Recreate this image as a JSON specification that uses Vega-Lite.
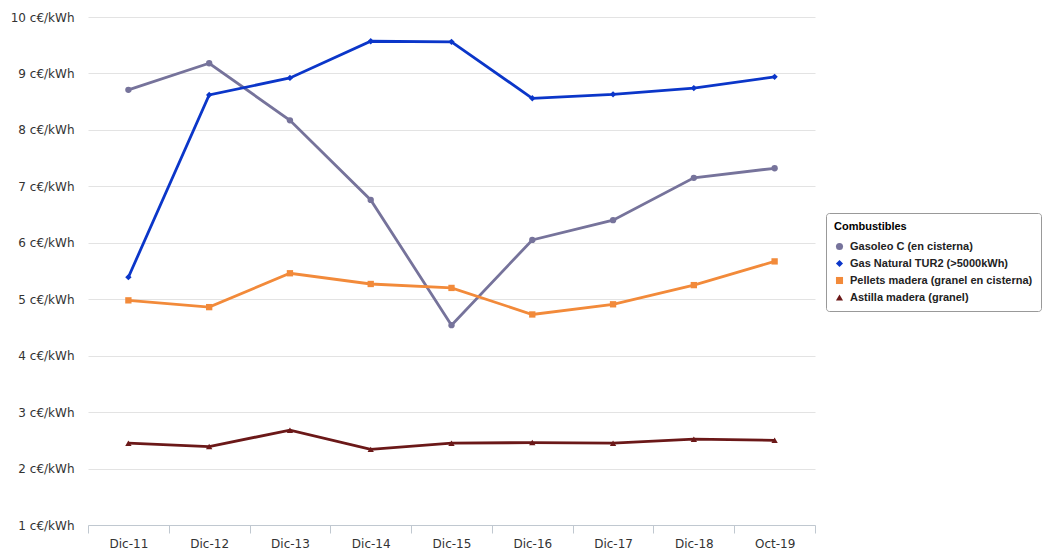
{
  "$schema": "https://vega.github.io/schema/vega-lite/v6.json",
  "width": 727,
  "height": 508,
  "autosize": {"type": "none"},
  "padding": {"left": 88, "top": 17, "right": 229, "bottom": 25},
  "background": "white",
  "config": {
    "view": {"stroke": null},
    "font": "DejaVu Sans"
  },
  "data": {
    "values": [
      {"periodo": "Dic-11", "serie": "Gasoleo C (en cisterna)", "valor": 8.71},
      {"periodo": "Dic-12", "serie": "Gasoleo C (en cisterna)", "valor": 9.18},
      {"periodo": "Dic-13", "serie": "Gasoleo C (en cisterna)", "valor": 8.17},
      {"periodo": "Dic-14", "serie": "Gasoleo C (en cisterna)", "valor": 6.76},
      {"periodo": "Dic-15", "serie": "Gasoleo C (en cisterna)", "valor": 4.54},
      {"periodo": "Dic-16", "serie": "Gasoleo C (en cisterna)", "valor": 6.05},
      {"periodo": "Dic-17", "serie": "Gasoleo C (en cisterna)", "valor": 6.40},
      {"periodo": "Dic-18", "serie": "Gasoleo C (en cisterna)", "valor": 7.15},
      {"periodo": "Oct-19", "serie": "Gasoleo C (en cisterna)", "valor": 7.32},
      {"periodo": "Dic-11", "serie": "Gas Natural TUR2 (>5000kWh)", "valor": 5.39},
      {"periodo": "Dic-12", "serie": "Gas Natural TUR2 (>5000kWh)", "valor": 8.62},
      {"periodo": "Dic-13", "serie": "Gas Natural TUR2 (>5000kWh)", "valor": 8.92},
      {"periodo": "Dic-14", "serie": "Gas Natural TUR2 (>5000kWh)", "valor": 9.57},
      {"periodo": "Dic-15", "serie": "Gas Natural TUR2 (>5000kWh)", "valor": 9.56},
      {"periodo": "Dic-16", "serie": "Gas Natural TUR2 (>5000kWh)", "valor": 8.56},
      {"periodo": "Dic-17", "serie": "Gas Natural TUR2 (>5000kWh)", "valor": 8.63},
      {"periodo": "Dic-18", "serie": "Gas Natural TUR2 (>5000kWh)", "valor": 8.74},
      {"periodo": "Oct-19", "serie": "Gas Natural TUR2 (>5000kWh)", "valor": 8.94},
      {"periodo": "Dic-11", "serie": "Pellets madera (granel en cisterna)", "valor": 4.98},
      {"periodo": "Dic-12", "serie": "Pellets madera (granel en cisterna)", "valor": 4.86},
      {"periodo": "Dic-13", "serie": "Pellets madera (granel en cisterna)", "valor": 5.46},
      {"periodo": "Dic-14", "serie": "Pellets madera (granel en cisterna)", "valor": 5.27},
      {"periodo": "Dic-15", "serie": "Pellets madera (granel en cisterna)", "valor": 5.20},
      {"periodo": "Dic-16", "serie": "Pellets madera (granel en cisterna)", "valor": 4.73},
      {"periodo": "Dic-17", "serie": "Pellets madera (granel en cisterna)", "valor": 4.91},
      {"periodo": "Dic-18", "serie": "Pellets madera (granel en cisterna)", "valor": 5.25},
      {"periodo": "Oct-19", "serie": "Pellets madera (granel en cisterna)", "valor": 5.67},
      {"periodo": "Dic-11", "serie": "Astilla madera (granel)", "valor": 2.45},
      {"periodo": "Dic-12", "serie": "Astilla madera (granel)", "valor": 2.39},
      {"periodo": "Dic-13", "serie": "Astilla madera (granel)", "valor": 2.68},
      {"periodo": "Dic-14", "serie": "Astilla madera (granel)", "valor": 2.34},
      {"periodo": "Dic-15", "serie": "Astilla madera (granel)", "valor": 2.45},
      {"periodo": "Dic-16", "serie": "Astilla madera (granel)", "valor": 2.46},
      {"periodo": "Dic-17", "serie": "Astilla madera (granel)", "valor": 2.45},
      {"periodo": "Dic-18", "serie": "Astilla madera (granel)", "valor": 2.52},
      {"periodo": "Oct-19", "serie": "Astilla madera (granel)", "valor": 2.50}
    ]
  },
  "encoding": {
    "x": {
      "field": "periodo",
      "type": "ordinal",
      "sort": null,
      "scale": {"paddingInner": 0, "paddingOuter": 0},
      "axis": {
        "title": null,
        "labelAngle": 0,
        "labelFontSize": 12,
        "labelColor": "#333333",
        "labelPadding": 5,
        "domainColor": "#c0c8d0",
        "tickColor": "#c0c8d0",
        "tickBand": "extent",
        "tickSize": 8,
        "grid": false
      }
    },
    "y": {
      "field": "valor",
      "type": "quantitative",
      "scale": {"domain": [1, 10], "nice": false, "zero": false},
      "axis": {
        "title": null,
        "values": [1, 2, 3, 4, 5, 6, 7, 8, 9, 10],
        "labelExpr": "datum.value + ' c€/kWh'",
        "labelFontSize": 12,
        "labelColor": "#333333",
        "labelPadding": 14,
        "domain": false,
        "ticks": false,
        "gridColor": "#e3e3e3",
        "gridWidth": 1
      }
    },
    "color": {
      "field": "serie",
      "type": "nominal",
      "scale": {
        "domain": ["Gasoleo C (en cisterna)", "Gas Natural TUR2 (>5000kWh)", "Pellets madera (granel en cisterna)", "Astilla madera (granel)"],
        "range": ["#76739b", "#0b36c9", "#f28a3a", "#6b1818"]
      },
      "legend": {
        "title": "Combustibles",
        "orient": "none",
        "legendX": 738,
        "legendY": 196,
        "titleFont": "Liberation Sans",
        "titleFontSize": 11,
        "titleFontWeight": "bold",
        "titleColor": "#000000",
        "titlePadding": 9,
        "labelFont": "Liberation Sans",
        "labelFontSize": 11,
        "labelFontWeight": "bold",
        "labelColor": "#222222",
        "labelLimit": 300,
        "labelOffset": 5,
        "strokeColor": "#999999",
        "cornerRadius": 3,
        "padding": 8,
        "rowPadding": 5,
        "symbolSize": 50,
        "symbolStrokeWidth": 0
      }
    }
  },
  "layer": [
    {
      "mark": {"type": "line", "strokeWidth": 2.8},
      "encoding": {"detail": {"field": "serie"}}
    },
    {
      "mark": {"type": "point", "filled": true, "opacity": 1, "size": 40},
      "encoding": {
        "shape": {
          "field": "serie",
          "type": "nominal",
          "scale": {
            "domain": ["Gasoleo C (en cisterna)", "Gas Natural TUR2 (>5000kWh)", "Pellets madera (granel en cisterna)", "Astilla madera (granel)"],
            "range": ["circle", "diamond", "square", "triangle-up"]
          },
          "legend": null
        }
      }
    }
  ]
}
